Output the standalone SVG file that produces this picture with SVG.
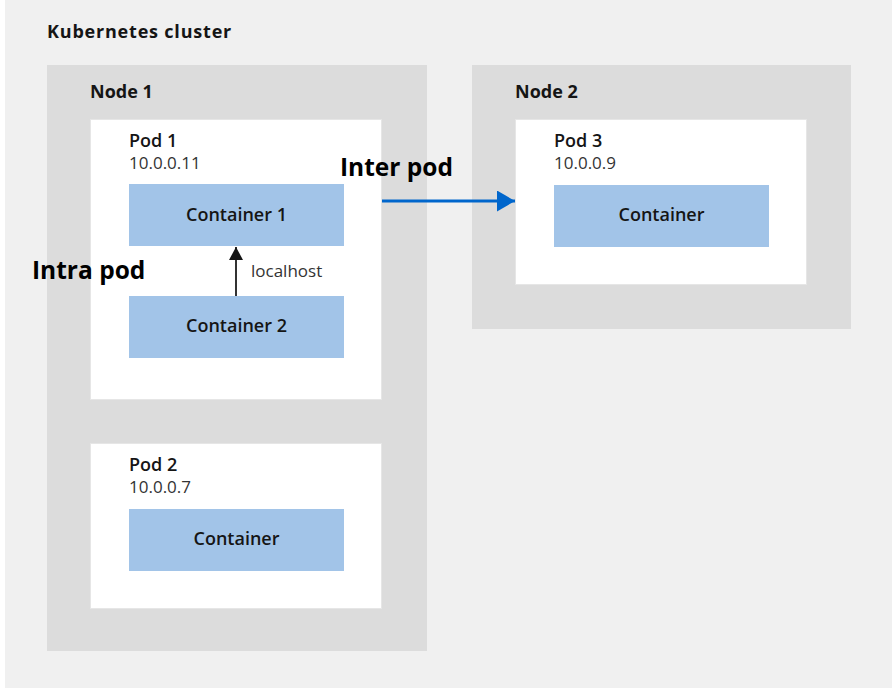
<svg xmlns="http://www.w3.org/2000/svg" width="892" height="688" viewBox="0 0 892 688">
  <defs>
    <style>
      .t { font-family: "Open Sans", "Liberation Sans", sans-serif; fill: #151515; }
      .title { font-size: 18px; font-weight: 700; }
      .wide { letter-spacing: 0.8px; }
      .big { font-size: 24.5px; font-weight: 700; fill: #000; }
      .pod { font-size: 18px; font-weight: 600; }
      .ip { font-size: 17px; font-weight: 400; fill: #333; }
      .ctr { font-size: 18px; font-weight: 600; text-anchor: middle; }
      .lbl { font-size: 17px; font-weight: 400; fill: #333; }
      .node { fill: #dcdcdc; }
      .podbox { fill: #ffffff; stroke: #e6e6e6; stroke-width: 1; }
      .cbox { fill: #a2c4e8; }
    </style>
    <marker id="ahBlue" viewBox="0 0 18 21" refX="18" refY="10.5" markerWidth="18" markerHeight="21" markerUnits="userSpaceOnUse" orient="auto">
      <path d="M0,0 L18,10.5 L0,21 Z" fill="#0066cc"/>
    </marker>
    <marker id="ahBlack" viewBox="0 0 13 14" refX="13" refY="7" markerWidth="13" markerHeight="14" markerUnits="userSpaceOnUse" orient="auto">
      <path d="M0,0 L13,7 L0,14 Z" fill="#151515"/>
    </marker>
  </defs>

  <g id="cluster">
    <rect x="5" y="0" width="887" height="688" fill="#f0f0f0"/>
    <text class="t title wide" x="47" y="38">Kubernetes cluster</text>
  </g>

  <g id="node1">
    <rect class="node" x="47" y="65" width="380" height="586"/>
    <text class="t title" x="90" y="98">Node 1</text>
  </g>

  <g id="node2">
    <rect class="node" x="472" y="65" width="379" height="264"/>
    <text class="t title" x="515" y="98">Node 2</text>
  </g>

  <g id="pod1">
    <rect class="podbox" x="90.5" y="119.5" width="291" height="280"/>
    <text class="t pod" x="129" y="147">Pod 1</text>
    <text class="t ip" x="129" y="169">10.0.0.11</text>
  </g>

  <g id="container1">
    <rect class="cbox" x="129" y="184" width="215" height="62"/>
    <text class="t ctr" x="236.5" y="221">Container 1</text>
  </g>

  <g id="container2">
    <rect class="cbox" x="129" y="296" width="215" height="62"/>
    <text class="t ctr" x="236.5" y="332">Container 2</text>
  </g>

  <g id="pod2">
    <rect class="podbox" x="90.5" y="443.5" width="291" height="165"/>
    <text class="t pod" x="129" y="471">Pod 2</text>
    <text class="t ip" x="129" y="493">10.0.0.7</text>
  </g>

  <g id="container-pod2">
    <rect class="cbox" x="129" y="509" width="215" height="62"/>
    <text class="t ctr" x="236.5" y="545">Container</text>
  </g>

  <g id="pod3">
    <rect class="podbox" x="515.5" y="119.5" width="291" height="165"/>
    <text class="t pod" x="554" y="147">Pod 3</text>
    <text class="t ip" x="554" y="169">10.0.0.9</text>
  </g>

  <g id="container-pod3">
    <rect class="cbox" x="554" y="185" width="215" height="62"/>
    <text class="t ctr" x="661.5" y="221">Container</text>
  </g>

  <g id="connectors">
    <line x1="382" y1="201" x2="515" y2="201" stroke="#0066cc" stroke-width="3" marker-end="url(#ahBlue)"/>
    <text class="t big" x="340" y="176">Inter pod</text>
    <line x1="236" y1="296" x2="236" y2="247" stroke="#333" stroke-width="2" marker-end="url(#ahBlack)"/>
    <text class="t lbl" x="251" y="277">localhost</text>
    <text class="t big" x="32" y="279">Intra pod</text>
  </g>
</svg>
